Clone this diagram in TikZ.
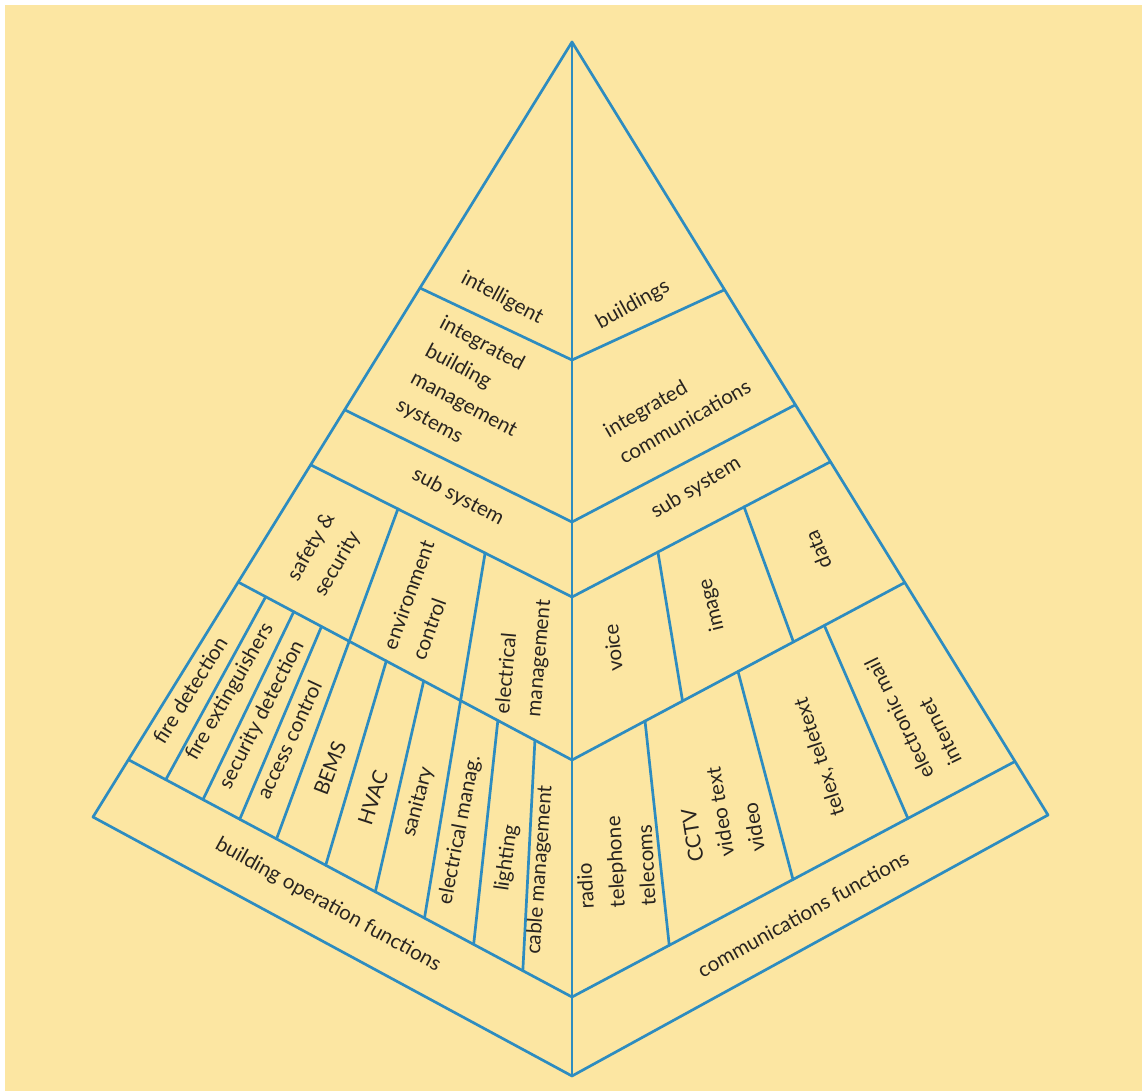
\documentclass[tikz,border=0pt]{standalone}
\usepackage{fontspec}
\setmainfont{Lato}
\usetikzlibrary{calc}

\definecolor{paper}{RGB}{252,230,162}
\definecolor{wire}{RGB}{45,140,192}
\definecolor{ink}{RGB}{40,36,32}

\begin{document}
\begin{tikzpicture}[x=0.5pt, y=-0.5pt,
    wall/.style={draw=wire, line width=1.35pt, line join=round, line cap=round},
    lbl/.style={text=ink, font=\fontsize{10.3}{15.5}\selectfont, align=left, inner sep=0pt}]
    \useasboundingbox (0,0) rectangle (1142,1091);
    \fill[paper] (5,5) rectangle (1142,1091);

    % outer corners of the pyramid
    \coordinate (top) at (572,42);
    \coordinate (left) at (93,817);
    \coordinate (right) at (1048,815);
    \coordinate (bottom) at (572,1076);

    % band lines: left edge, spine, right edge
    \coordinate (l1) at (420,288);  \coordinate (m1) at (572,360);  \coordinate (r1) at (724,290);
    \coordinate (l2) at (345,410);  \coordinate (m2) at (572,522);  \coordinate (r2) at (795,405);
    \coordinate (l3) at (311,465);  \coordinate (m3) at (572,597);  \coordinate (r3) at (830,462);
    \coordinate (l4) at (238,582);  \coordinate (m4) at (572,760);  \coordinate (r4) at (904,583);
    \coordinate (l5) at (129,760);  \coordinate (m5) at (572,997);  \coordinate (r5) at (1014,762);

    \draw[wall] (top) -- (left) -- (bottom) -- (right) -- cycle;
    \draw[wall] (top) -- (bottom);
    \foreach \i in {1,...,5}
        \draw[wall] (l\i) -- (m\i) -- (r\i);

    % building side
    \foreach \t in {0.333,0.667}
        \draw[wall] ($(l3)!\t!(m3)$) -- ($(l5)!\t!(m5)$);
    \foreach \t in {0.083,0.167,0.25,0.444,0.556,0.778,0.889}
        \draw[wall] ($(l4)!\t!(m4)$) -- ($(l5)!\t!(m5)$);

    % communications side
    \foreach \t in {0.333,0.667}
        \draw[wall] ($(m3)!\t!(r3)$) -- ($(m4)!\t!(r4)$);
    \foreach \t in {0.22,0.5,0.76}
        \draw[wall] ($(m4)!\t!(r4)$) -- ($(m5)!\t!(r5)$);

    % labels
    \node (intelligent) [lbl, rotate=-28] at (502,298) {intelligent};
    \node (buildings) [lbl, rotate=29] at (633,305) {buildings};
    \node (ibms) [lbl, rotate=-28] at (471,391) {integrated\\building\\management\\systems};
    \node (icomms) [lbl, rotate=30] at (677,408) {integrated\\communications};
    \node (subl) [lbl, rotate=-28] at (458,497) {sub system};
    \node (subr) [lbl, rotate=31] at (696,488) {sub system};

    \node (safety) [lbl, rotate=60] at (325,555) {safety \&\\security};
    \node (environment) [lbl, rotate=70] at (423,600) {environment\\control};
    \node (elecmgmt) [lbl, rotate=85] at (524,657) {electrical\\management};
    \node (voice) [lbl, rotate=96] at (613,648) {voice};
    \node (image) [lbl, rotate=104] at (712,605) {image};
    \node (data) [lbl, rotate=112] at (818,550) {data};

    \node (firedet) [lbl, rotate=58] at (190,690) {fire detection};
    \node (fireext) [lbl, rotate=60] at (230,692) {fire extinguishers};
    \node (secdet) [lbl, rotate=63] at (262,715) {security detection};
    \node (access) [lbl, rotate=65] at (289,740) {access control};
    \node (bems) [lbl, rotate=69] at (330,768) {BEMS};
    \node (hvac) [lbl, rotate=72] at (373,798) {HVAC};
    \node (sanitary) [lbl, rotate=75] at (418,802) {sanitary};
    \node (elecmanag) [lbl, rotate=79] at (460,830) {electrical manag.};
    \node (lighting) [lbl, rotate=82] at (507,858) {lighting};
    \node (cable) [lbl, rotate=86] at (540,870) {cable management};

    \node (radio) [lbl, rotate=93] at (615,862) {radio\\telephone\\telecoms};
    \node (cctv) [lbl, rotate=99] at (720,812) {CCTV\\video text\\video};
    \node (telex) [lbl, rotate=108] at (820,757) {telex, teletext};
    \node (email) [lbl, rotate=116] at (913,712) {electronic mail\\internet};

    \node (buildops) [lbl, rotate=-29] at (328,905) {building operation functions};
    \node (commsfn) [lbl, rotate=29] at (803,914) {communications functions};
\end{tikzpicture}
\end{document}
